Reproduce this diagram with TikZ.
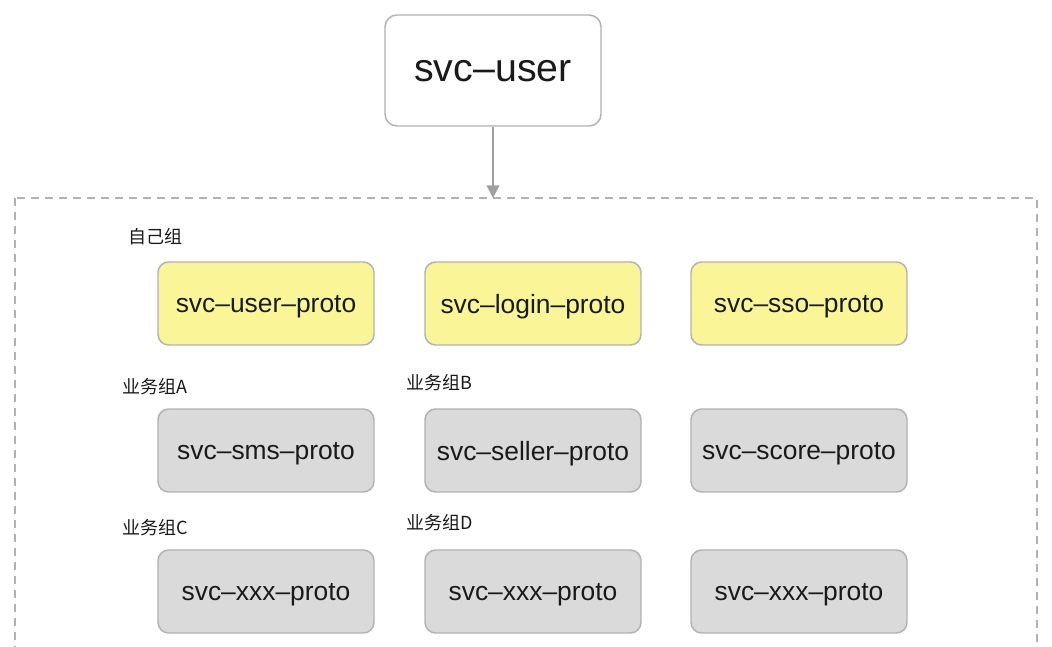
\documentclass[tikz,border=0pt]{standalone}
\usepackage{fontspec}
\setmainfont{Liberation Sans}
\newfontfamily\cjk{Noto Sans CJK SC}
\usetikzlibrary{arrows.meta}

\definecolor{edgegray}{RGB}{178,178,178}
\definecolor{arrowgray}{RGB}{160,160,160}
\definecolor{protoyellow}{RGB}{250,246,152}
\definecolor{protogray}{RGB}{218,218,218}
\definecolor{textdark}{RGB}{26,26,26}

\tikzset{
  svcbox/.style={draw=edgegray, line width=1.1pt, rounded corners=9pt, fill=white, text depth=0pt,
    minimum width=162pt, minimum height=83.25pt, text=textdark, font=\fontsize{29.5}{32}\selectfont},
  protobox/.style={draw=edgegray, line width=1.1pt, rounded corners=8pt, text depth=0pt,
    minimum width=162pt, minimum height=62.25pt, text=textdark, font=\fontsize{19.8}{22}\selectfont},
  ownproto/.style={protobox, fill=protoyellow},
  otherproto/.style={protobox, fill=protogray},
  grouplabel/.style={anchor=west, inner sep=0pt, text=textdark, font=\cjk\fontsize{13.5}{15}\selectfont}
}

\begin{document}
\begin{tikzpicture}[x=0.75pt, y=-0.75pt]
            \clip (0,0) rectangle (1052,646);
            \fill[white] (0,0) rectangle (1052,646);

            \node[svcbox] (user) at (493,70.5) {svc–user};
            \coordinate (groupTop) at (493,198);
            \draw[arrowgray, line width=1.1pt, -{Triangle[length=9.5pt, width=9.5pt]}] (user.south) -- (groupTop);
            \draw[edgegray, line width=0.9pt, dash pattern=on 6pt off 4.5pt] (15,198) rectangle (1037,700);

            \node[grouplabel] (grpself) at (128,237) {自己组};
            \node[ownproto] (userproto) at (266,303.5) {svc–user–proto};
            \node[ownproto] (loginproto) at (533,303.5) {svc–login–proto};
            \node[ownproto] (ssoproto) at (799,303.5) {svc–sso–proto};

            \node[grouplabel] (grpa) at (122,387) {业务组A};
            \node[grouplabel] (grpb) at (406,383) {业务组B};
            \node[otherproto] (smsproto) at (266,450.5) {svc–sms–proto};
            \node[otherproto] (sellerproto) at (533,450.5) {svc–seller–proto};
            \node[otherproto] (scoreproto) at (799,450.5) {svc–score–proto};

            \node[grouplabel] (grpc) at (122,528) {业务组C};
            \node[grouplabel] (grpd) at (406,523) {业务组D};
            \node[otherproto] (xxxa) at (266,591.5) {svc–xxx–proto};
            \node[otherproto] (xxxb) at (533,591.5) {svc–xxx–proto};
            \node[otherproto] (xxxc) at (799,591.5) {svc–xxx–proto};

        \end{tikzpicture}
\end{document}
